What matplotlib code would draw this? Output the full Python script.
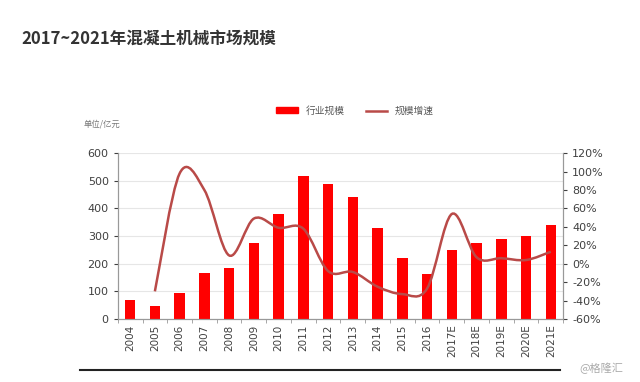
import numpy as np
import matplotlib.pyplot as plt
from matplotlib.path import Path
from matplotlib.patches import PathPatch
from matplotlib.lines import Line2D
from matplotlib.patches import Rectangle

plt.rcParams['font.family'] = ['Noto Sans CJK SC', 'DejaVu Sans']

years = ["2004", "2005", "2006", "2007", "2008", "2009", "2010", "2011", "2012",
         "2013", "2014", "2015", "2016", "2017E", "2018E", "2019E", "2020E", "2021E"]
scale = [68, 47, 95, 168, 184, 274, 380, 519, 488, 442, 330, 219, 162, 249, 275, 290, 302, 340]
# growth starts from 2005
growth = [None, -30, 98, 80, 9, 49, 39, 38, -8, -9, -25, -33, -27, 54, 7, 6, 4, 13]

bar_color = "#ff0000"
line_color = "#b94a48"
grey = "#404040"


def smooth_path(xs, ys, t=1 / 6):
    # excel-like smoothed line: bezier segments with catmull-rom tangents
    pts = np.column_stack([xs, ys]).astype(float)
    verts = [pts[0]]
    codes = [Path.MOVETO]
    n = len(pts)
    for i in range(n - 1):
        p0 = pts[i - 1] if i > 0 else pts[i]
        p1, p2 = pts[i], pts[i + 1]
        p3 = pts[i + 2] if i + 2 < n else pts[i + 1]
        c1 = p1 + (p2 - p0) * t
        c2 = p2 - (p3 - p1) * t
        verts += [c1, c2, p2]
        codes += [Path.CURVE4] * 3
    return Path(verts, codes)


fig = plt.figure(figsize=(6.4, 3.82), dpi=100)
ax = fig.add_axes([0.184, 0.165, 0.696, 0.434])
ax2 = ax.twinx()

x = np.arange(len(years))
ax.bar(x, scale, width=0.42, color=bar_color, zorder=2)
ax.set_xlim(-0.5, len(years) - 0.5)
ax.set_ylim(0, 600)
ax.set_yticks(range(0, 601, 100))
ax.grid(axis="y", color="#e6e6e6", linewidth=0.8, zorder=0)
ax.set_axisbelow(True)
ax.set_xticks(x)
ax.set_xticklabels(years, rotation=90, fontsize=7.5, color=grey, family="DejaVu Sans")
ax.set_xticks(np.arange(-0.5, len(years), 1), minor=True)
ax.tick_params(axis="x", which="major", length=0, pad=4)
ax.tick_params(axis="x", which="minor", length=3, color="#999999")
ax.tick_params(axis="y", labelsize=8, colors=grey, length=3)
for lbl in ax.get_yticklabels():
    lbl.set_family("DejaVu Sans")

gx = [i for i, g in enumerate(growth) if g is not None]
gy = [g for g in growth if g is not None]
ax2.set_ylim(-60, 120)
ax2.set_yticks(range(-60, 121, 20))
ax2.set_yticklabels([f"{v}%" for v in range(-60, 121, 20)], family="DejaVu Sans")
ax2.tick_params(axis="y", labelsize=8, colors=grey, length=3)
ax2.add_patch(PathPatch(smooth_path(gx, gy), facecolor="none", edgecolor=line_color,
                        linewidth=1.8, zorder=3))

for a in (ax, ax2):
    a.spines["top"].set_visible(False)
    for s in ("left", "right", "bottom"):
        a.spines[s].set_color("#999999")
        a.spines[s].set_linewidth(0.8)

# legend
handles = [Rectangle((0, 0), 1, 1, color=bar_color),
           Line2D([], [], color=line_color, linewidth=1.8)]
fig.legend(handles, ["行业规模", "规模增速"], loc="center", bbox_to_anchor=(0.555, 0.71),
           ncol=2, frameon=False, fontsize=7, handlelength=2.2, handleheight=0.6,
           columnspacing=2.2, labelcolor="#555555")

fig.text(0.13, 0.67, "单位/亿元", fontsize=6, color="#777777")
fig.text(0.034, 0.90, "2017~2021年混凝土机械市场规模", fontsize=12, fontweight="bold",
         color="#333333", va="center")

fig.add_artist(Line2D([0.125, 0.875], [0.032, 0.032], color="#222222", linewidth=1.5))
fig.text(0.905, 0.035, "@格隆汇", fontsize=8, color="#aaaaaa", va="center")

fig.savefig("out.png", dpi=100)
